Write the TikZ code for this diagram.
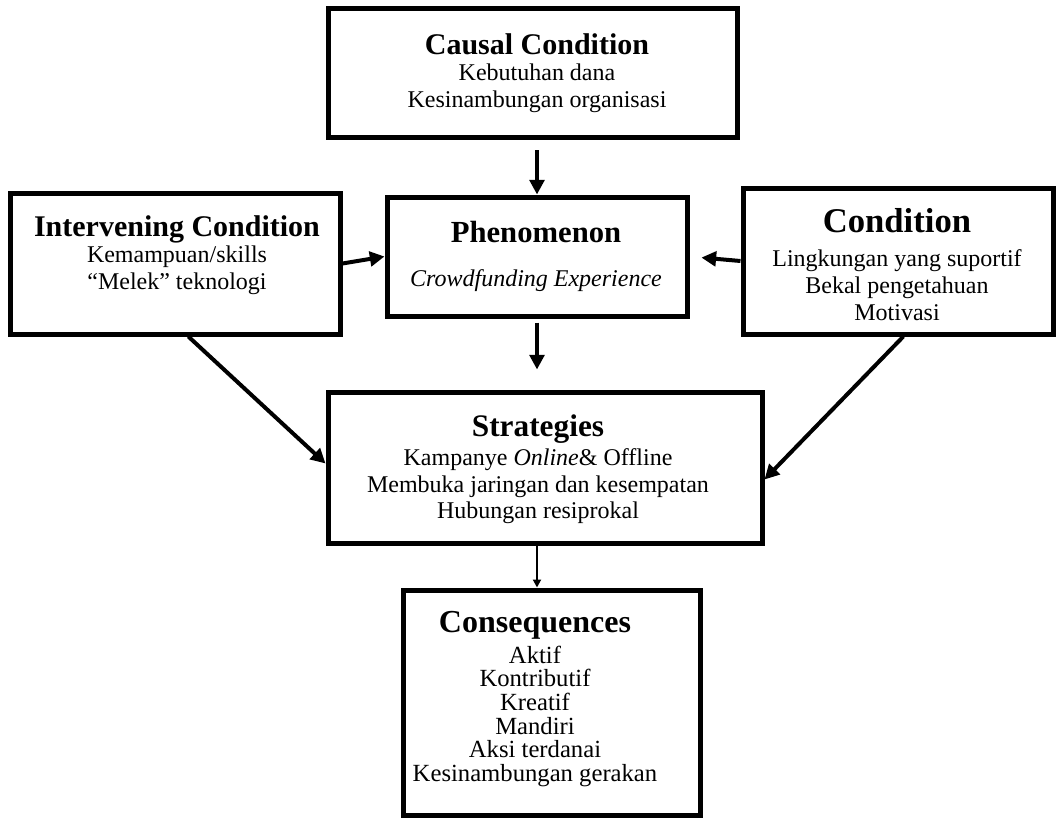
\documentclass[tikz,border=0pt]{standalone}
\usepackage{fontspec}
\setmainfont{Liberation Serif}
\usepackage{tikz}
\usetikzlibrary{arrows.meta}
\usetikzlibrary{fit}

\newcommand{\boxtitle}[2][23]{{\fontsize{#1}{26}\selectfont\bfseries #2}}

\begin{document}
\begin{tikzpicture}[x=0.75pt,y=-0.75pt, % one unit = one pixel of the drawing
    box/.style={draw, line width=3.75pt, inner sep=0pt},
    txt/.style={align=center, inner sep=0pt, anchor=north, font=\fontsize{18}{20}\selectfont},
    arr/.style={line width=3pt, -{Triangle[length=11pt,width=11pt]}},
    thinarr/.style={line width=1.5pt, -{Triangle[length=6pt,width=6pt]}}]
        \useasboundingbox (0,0) rectangle (1058,818);
        % boxes
        \node[box, fit={(328,8) (737,137)}] (causal) {};
        \node[box, fit={(10,193) (340,334)}] (interv) {};
        \node[box, fit={(387,197) (687,316)}] (phen) {};
        \node[box, fit={(743,188) (1053,334)}] (cond) {};
        \node[box, fit={(328,392) (762,543)}] (strat) {};
        \node[box, fit={(403,590) (700,815)}] (cons) {};
        % texts
        \node[txt] (causaltxt) at (537,33) {\boxtitle[22.5]{Causal Condition}\\
            Kebutuhan dana\\ Kesinambungan organisasi};
        \node[txt] (intervtxt) at (177,215) {\boxtitle[22.5]{Intervening Condition}\\
            Kemampuan/skills\\ “Melek” teknologi};
        \node[txt] (phentxt) at (536,221) {\boxtitle{Phenomenon}\\[13pt]
            \textit{Crowdfunding Experience}};
        \node[txt] (condtxt) at (897,208) {\boxtitle[26]{Condition}\\[6pt]
            Lingkungan yang suportif\\ Bekal pengetahuan\\ Motivasi};
        \node[txt] (strattxt) at (538,414) {\boxtitle[23.5]{Strategies}\\[2pt]
            Kampanye \textit{Online}\& Offline\\ Membuka jaringan dan kesempatan\\ Hubungan resiprokal};
        \node[txt, font=\fontsize{18.5}{17.7}\selectfont] (constxt) at (535,611) {\boxtitle[24]{Consequences}\\[4pt]
            Aktif\\ Kontributif\\ Kreatif\\ Mandiri\\ Aksi terdanai\\ Kesinambungan gerakan};
        % arrows
        \draw[arr, shorten <=8pt] (causal.south -| phen.north) -- (phen.north);
        \draw[arr] (interv.east) -- (phen.west);
        \draw[arr, shorten >=9pt] (cond.west) -- (phen.east);
        \draw[arr, shorten <=3pt, shorten >=15pt] (phen.south) -- (phen.south |- strat.north);
        \draw[arr] ([xshift=10pt]interv.south) -- ([yshift=3pt]strat.west);
        \draw[arr] ([xshift=4pt]cond.south) -- ([yshift=-9pt]strat.east);
        \draw[thinarr] (strat.south -| phen.south) -- (cons.north -| phen.south);
\end{tikzpicture}
\end{document}
